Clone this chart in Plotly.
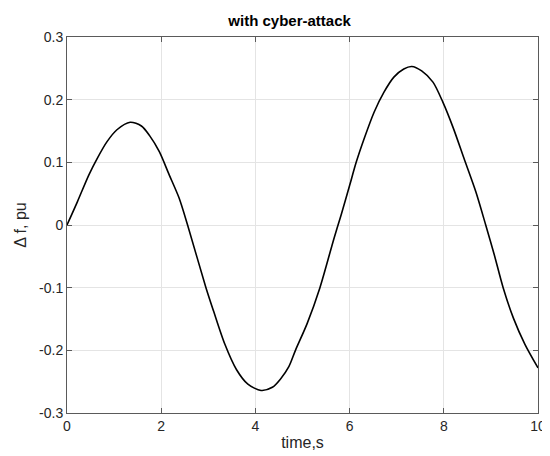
import plotly.graph_objects as go

time_s = [0, 0.22, 0.465, 0.64, 0.85, 1.06, 1.34, 1.58, 1.75, 1.96, 2.17, 2.38, 2.56,
          2.95, 3.11, 3.35, 3.60, 3.84, 4.12, 4.36, 4.53, 4.71, 4.85, 5.1, 5.37, 5.67,
          5.82, 6.0, 6.14, 6.31, 6.52, 6.73, 6.94, 7.15, 7.32, 7.53, 7.77, 7.98, 8.2,
          8.43, 8.68, 8.89, 9.07, 9.26, 9.48, 9.72, 10.0]
delta_f = [0.0, 0.037, 0.080, 0.106, 0.133, 0.152, 0.164, 0.158, 0.143, 0.117, 0.080,
           0.043, 0.0, -0.100, -0.137, -0.190, -0.231, -0.254, -0.264, -0.259, -0.246,
           -0.226, -0.200, -0.157, -0.100, -0.021, 0.016, 0.063, 0.100, 0.138, 0.180,
           0.212, 0.236, 0.249, 0.253, 0.246, 0.228, 0.196, 0.155, 0.106, 0.053, 0.0,
           -0.047, -0.100, -0.149, -0.190, -0.228]

x_ticks = [0, 2, 4, 6, 8, 10]
y_ticks = [-0.3, -0.2, -0.1, 0, 0.1, 0.2, 0.3]
y_tick_text = ["-0.3", "-0.2", "-0.1", "0", "0.1", "0.2", "0.3"]

FONT = "Liberation Sans, Arial, Helvetica"

fig = go.Figure()
fig.add_trace(go.Scatter(x=time_s, y=delta_f, mode="lines",
                         line=dict(color="black", width=1.6, shape="spline", smoothing=0.8),
                         showlegend=False))

axis_common = dict(showgrid=True, gridcolor="#e4e4e4", gridwidth=1,
                   showline=True, linecolor="#5a5a5a", linewidth=1,
                   mirror="allticks", ticks="inside", ticklen=5, tickcolor="#5a5a5a",
                   zeroline=False, tickfont=dict(family=FONT, size=14, color="#262626"))

fig.update_layout(
    width=550, height=456,
    margin=dict(l=58, r=13, t=29, b=51),
    paper_bgcolor="white", plot_bgcolor="white",
    title=dict(text="<b>with cyber-attack</b>", x=0.512, xanchor="center", y=0.971, yanchor="middle",
               font=dict(family=FONT, size=15, color="black")),
    xaxis=dict(range=[0, 10], tickvals=x_ticks,
               title=dict(text="time,s", standoff=4,
                          font=dict(family=FONT, size=16, color="#262626")),
               **axis_common),
    yaxis=dict(range=[-0.3, 0.3], tickvals=y_ticks, ticktext=y_tick_text,
               title=dict(text="Δ f, pu", standoff=8,
                          font=dict(family=FONT, size=16, color="#262626")),
               **axis_common),
)

fig.write_html("out.html")
